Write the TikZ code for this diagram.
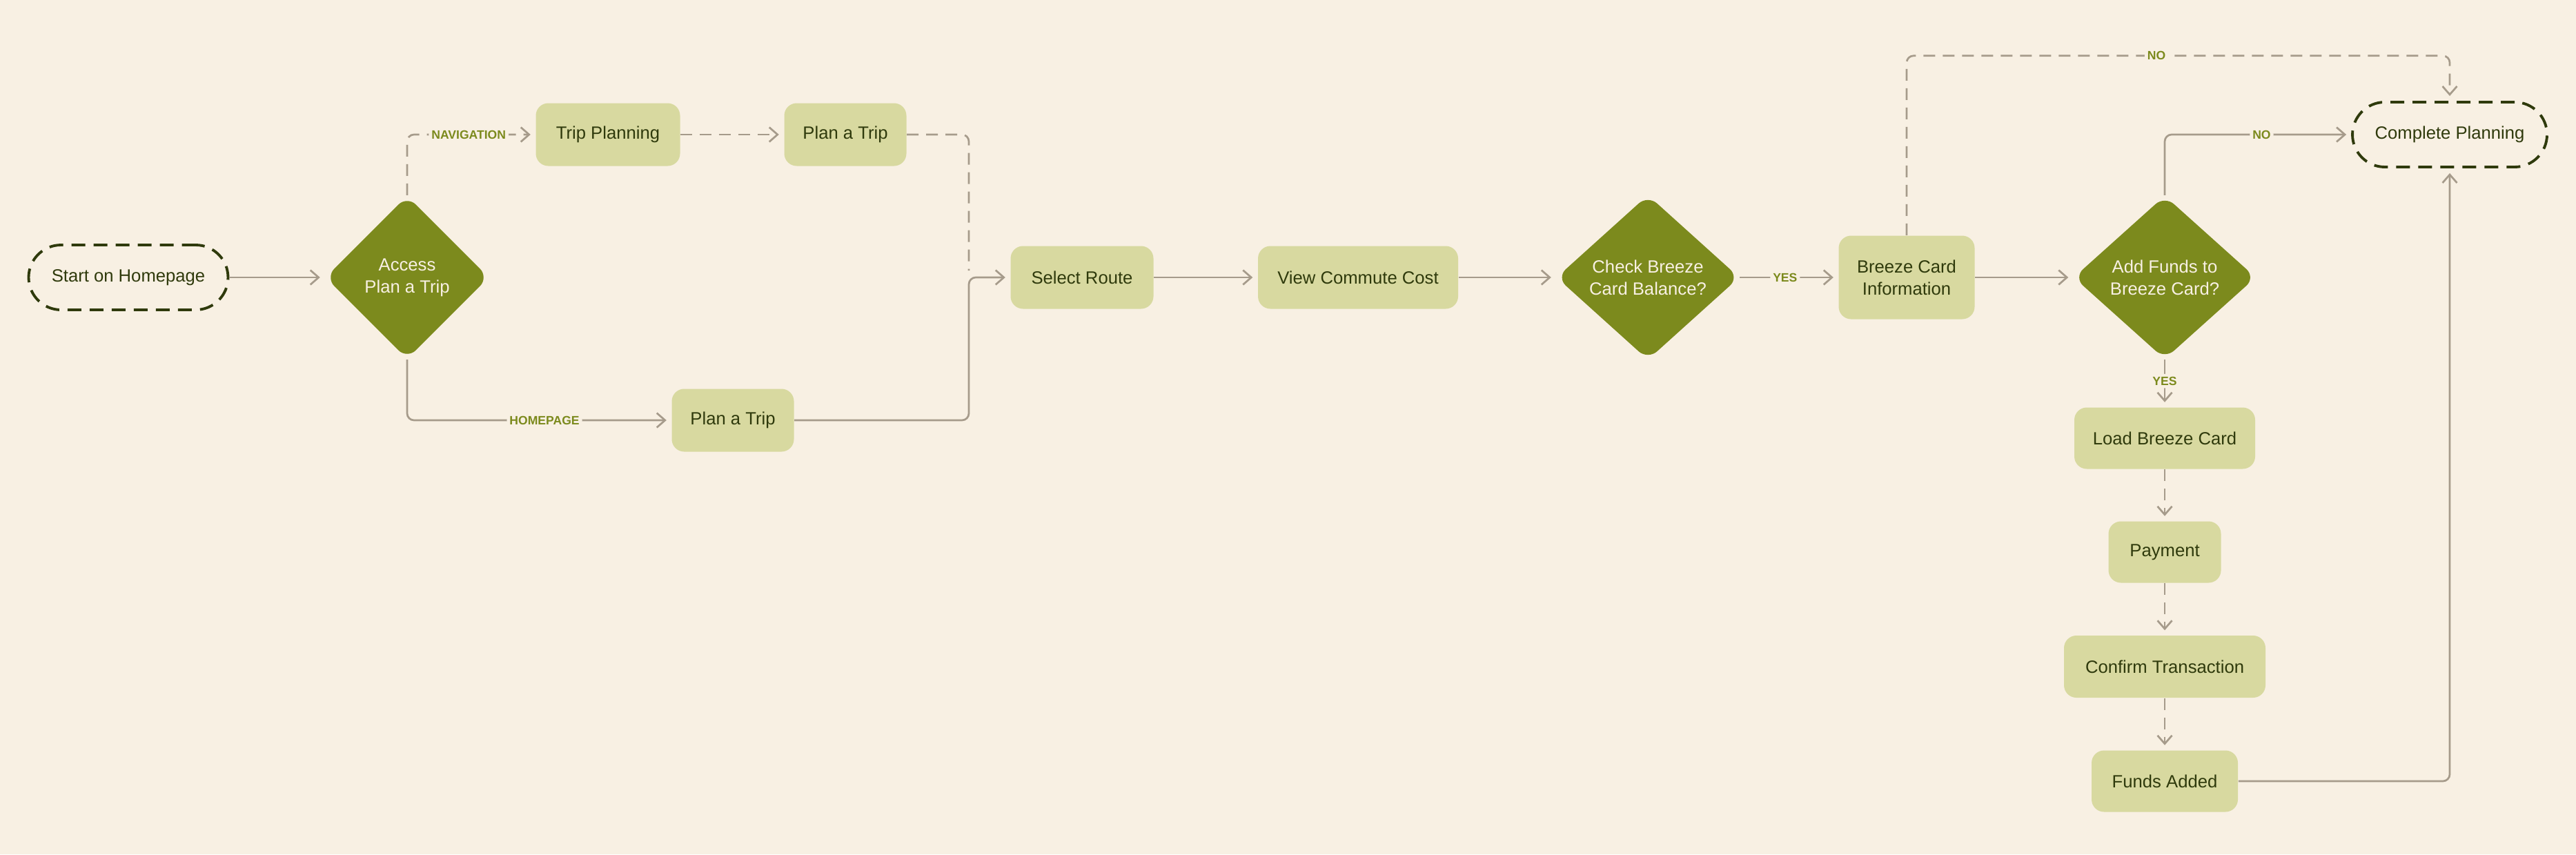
\documentclass[tikz,border=0pt]{standalone}
\usepackage{fontspec}
\setmainfont{Liberation Sans}
\usetikzlibrary{arrows.meta,shapes.geometric}

\definecolor{paper}{HTML}{F8F0E3}
\definecolor{boxfill}{HTML}{D8D9A0}
\definecolor{olive}{HTML}{7C8A1D}
\definecolor{ink}{HTML}{2F3A0C}
\definecolor{wire}{HTML}{A69B8B}

\begin{document}
\begin{tikzpicture}[
  every node/.style={font=\fontsize{7.3}{9.1}\selectfont, text=ink},
  box/.style={fill=boxfill, rounded corners=0.18cm, minimum height=0.91cm, inner sep=0pt, align=center},
  decision/.style={diamond, aspect=1, fill=olive, text=paper, rounded corners=0.18cm, inner sep=0pt, align=center},
  terminal/.style={draw=ink, line width=1.1pt, dash pattern=on 0.2cm off 0.12cm, rounded corners=0.47cm, minimum height=0.94cm},
  flow/.style={draw=wire, line width=0.77pt, rounded corners=0.1cm, -{Straight Barb[length=1.2mm,width=2.1mm]}, shorten >=0.7mm},
  dflow/.style={flow, dash pattern=on 0.17cm off 0.11cm},
  lbl/.style={font=\bfseries\fontsize{5}{6}\selectfont, text=olive, fill=paper, inner sep=0.4mm}
]

  % Canvas
  \useasboundingbox (0,0) rectangle (37.33,-12.38);
  \fill[paper] (0,0) rectangle (37.33,-12.38);

  % Entry and first decision
  \node[terminal, minimum width=2.89cm] (start) at (1.86,-4.02) {Start on Homepage};
  \node[decision, minimum width=2.37cm, minimum height=2.37cm] (access) at (5.90,-4.02) {Access\\Plan a Trip};

  % Two ways to reach the planner
  \node[box, minimum width=2.09cm] (tripplan) at (8.81,-1.95) {Trip Planning};
  \node[box, minimum width=1.77cm] (planA) at (12.25,-1.95) {Plan a Trip};
  \node[box, minimum width=1.77cm] (planB) at (10.62,-6.09) {Plan a Trip};
  \coordinate (merge) at (14.04,-4.02);

  % Main row
  \node[box, minimum width=2.07cm] (route) at (15.68,-4.02) {Select Route};
  \node[box, minimum width=2.90cm] (cost) at (19.68,-4.02) {View Commute Cost};
  \node[decision, minimum width=2.65cm, minimum height=2.39cm] (balance) at (23.88,-4.02) {Check Breeze\\Card Balance?};
  \node[box, minimum width=1.97cm, minimum height=1.21cm] (info) at (27.63,-4.02) {Breeze Card\\Information};
  \node[decision, minimum width=2.64cm, minimum height=2.37cm] (addfunds) at (31.37,-4.02) {Add Funds to\\Breeze Card?};
  \node[terminal, minimum width=2.82cm] (done) at (35.50,-1.95) {Complete Planning};

  % Top-up column
  \node[box, minimum width=2.62cm, minimum height=0.89cm] (load) at (31.37,-6.35) {Load Breeze Card};
  \node[box, minimum width=1.63cm, minimum height=0.89cm] (pay) at (31.37,-8.00) {Payment};
  \node[box, minimum width=2.92cm, minimum height=0.90cm] (confirm) at (31.37,-9.66) {Confirm Transaction};
  \node[box, minimum width=2.12cm, minimum height=0.89cm] (added) at (31.37,-11.32) {Funds Added};

  % Connectors
  \draw[flow] (start) -- (access);
  \draw[dflow] (access.north) |- node[lbl, pos=0.74] {NAVIGATION} (tripplan.west);
  \draw[dflow] (tripplan) -- (planA);
  \draw[flow] (access.south) |- node[lbl, pos=0.76] {HOMEPAGE} (planB.west);
  \draw[dflow, -, shorten >=0.1cm] (planA.east) -| (merge);
  \draw[flow] (planB.east) -| (merge) -- (route.west);

  \draw[flow] (route) -- (cost);
  \draw[flow] (cost) -- (balance);
  \draw[flow] (balance) -- node[lbl, pos=0.46] {YES} (info);
  \draw[flow] (info) -- (addfunds);
  \draw[dflow] (info.north) -- ++(0,2.60) -| node[lbl, pos=0.23] {NO} (done.north);
  \draw[flow] (addfunds.north) |- node[lbl, pos=0.76] {NO} (done.west);

  \draw[flow] (addfunds.south) -- node[lbl, pos=0.45] {YES} (load.north);
  \draw[dflow] (load) -- (pay);
  \draw[dflow] (pay) -- (confirm);
  \draw[dflow] (confirm) -- (added);
  \draw[flow] (added.east) -| (done.south);

\end{tikzpicture}
\end{document}
